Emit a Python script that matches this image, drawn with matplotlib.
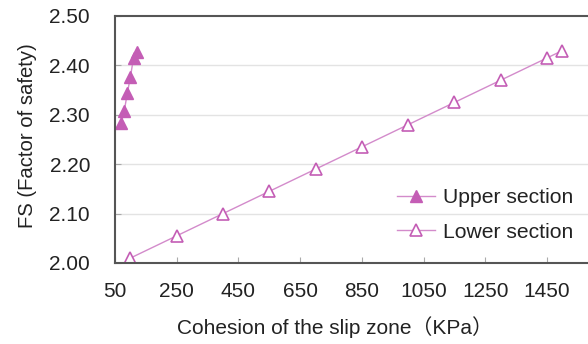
import matplotlib
matplotlib.use("Agg")
import matplotlib.pyplot as plt

upper_x = [70, 80, 90, 100, 110, 120]
upper_fs = [2.283, 2.308, 2.344, 2.377, 2.415, 2.427]
lower_x = [100, 250, 400, 550, 700, 850, 1000, 1150, 1300, 1450, 1500]
lower_fs = [2.010, 2.055, 2.100, 2.145, 2.190, 2.235, 2.280, 2.325, 2.370, 2.415, 2.430]
xticks = [50, 250, 450, 650, 850, 1050, 1250, 1450]
yticks = [2.00, 2.10, 2.20, 2.30, 2.40, 2.50]

fam = ['Liberation Sans', 'Noto Sans CJK SC', 'DejaVu Sans']
plt.rcParams['font.family'] = fam

fig = plt.figure(figsize=(5.88, 3.44), dpi=100)
ax = fig.add_axes([0.1956, 0.2355, 0.8044, 0.718])

mcol = '#c45db5'
lcol = '#d38bcb'

ax.plot(upper_x, upper_fs, linestyle='-', color=lcol, lw=1.0, marker='^',
        markersize=8.5, markerfacecolor=mcol, markeredgecolor=mcol, label='Upper section')
ax.plot(lower_x, lower_fs, linestyle='-', color=lcol, lw=1.0, marker='^',
        markersize=8.5, markerfacecolor='white', markeredgecolor=mcol, markeredgewidth=1.2,
        label='Lower section')

ax.set_xlim(50, 1583)
ax.set_ylim(2.0, 2.5)
ax.set_xticks(xticks)
ax.set_xticklabels([str(v) for v in xticks])
ax.set_yticks(yticks)
ax.set_yticklabels([f"{v:.2f}" for v in yticks])
ax.tick_params(axis='both', direction='in', length=4, color='#aaaaaa', labelsize=15,
               labelcolor='#222222')
ax.tick_params(axis='x', pad=14)
ax.tick_params(axis='y', pad=18)
for y in yticks[1:-1]:
    ax.axhline(y, color='#e3e3e3', lw=1.0, zorder=0)
for s in ['left', 'bottom', 'top']:
    ax.spines[s].set_color('#555555')
    ax.spines[s].set_linewidth(1.5)
ax.spines['right'].set_visible(False)

ax.set_xlabel('Cohesion of the slip zone（KPa）', fontsize=15, color='#222222')
ax.set_ylabel('FS (Factor of safety)', fontsize=14.6, color='#222222')
ax.xaxis.set_label_coords(0.465, -0.215)
ax.yaxis.set_label_coords(-0.165, 0.514)

leg = ax.legend(loc='lower right', bbox_to_anchor=(0.995, 0.035), frameon=False,
                fontsize=15.2, handlelength=1.8, handletextpad=0.35, labelspacing=0.72,
                borderaxespad=0.2)
for t in leg.get_texts():
    t.set_color('#222222')

fig.savefig('out.png', dpi=100)
